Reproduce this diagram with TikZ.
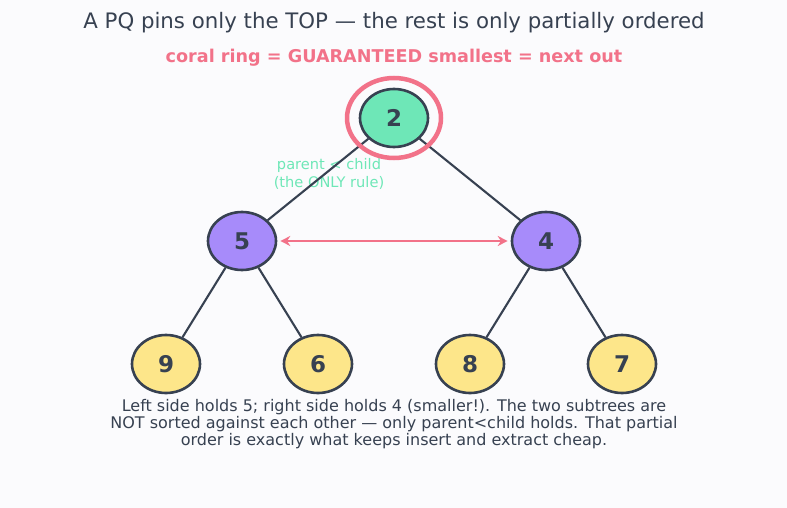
\documentclass[tikz,border=0pt]{standalone}
\usepackage{fontspec}
\setmainfont{DejaVu Sans}
\usetikzlibrary{arrows.meta,shapes.geometric}
\definecolor{bg}{HTML}{FBFBFD}
\definecolor{ink}{HTML}{374151}
\definecolor{coral}{HTML}{F27289}
\definecolor{mint}{HTML}{6EE7B7}
\definecolor{violet}{HTML}{A78BFA}
\definecolor{sand}{HTML}{FDE68A}
\pgfdeclarelayer{bgl}
\pgfdeclarelayer{edgel}
\pgfsetlayers{bgl,edgel,main}
\tikzset{
  heapnode/.style={ellipse, draw=ink, line width=2.6pt, minimum width=68pt, minimum height=58pt, inner sep=0pt, text=ink, font=\fontsize{23}{24}\selectfont\bfseries},
  edge/.style={draw=ink, line width=2.1pt},
}
\begin{document}
\begin{tikzpicture}[x=1pt,y=-1pt]
\begin{pgfonlayer}{bgl}
\fill[bg] (0,0) rectangle (787,508);
\node[text=mint, font=\fontsize{14.6}{17.5}\selectfont, align=center] (lbl) at (329,174) {parent < child\\(the ONLY rule)};
\end{pgfonlayer}
\useasboundingbox (0,0) rectangle (787,508);
\node[text=ink, font=\fontsize{21.3}{24}\selectfont] (title) at (394,23) {A PQ pins only the TOP — the rest is only partially ordered};
\node[text=coral, font=\fontsize{17.6}{20}\selectfont\bfseries] (sub) at (394,58) {coral ring = GUARANTEED smallest = next out};
\node[heapnode, fill=mint] (r) at (394,118) {2};
\node[heapnode, fill=violet] (a) at (242,241) {5};
\node[heapnode, fill=violet] (b) at (546,241) {4};
\node[heapnode, fill=sand] (a1) at (166,364) {9};
\node[heapnode, fill=sand] (a2) at (318,364) {6};
\node[heapnode, fill=sand] (b1) at (470,364) {8};
\node[heapnode, fill=sand] (b2) at (622,364) {7};
\begin{pgfonlayer}{edgel}
\draw[edge] (r) -- (a);
\draw[edge] (r) -- (b);
\draw[edge] (a) -- (a1);
\draw[edge] (a) -- (a2);
\draw[edge] (b) -- (b1);
\draw[edge] (b) -- (b2);
\end{pgfonlayer}
\node[ellipse, draw=coral, line width=4.5pt, minimum width=94pt, minimum height=80pt] (ring) at (394,118) {};
\draw[coral, line width=2.7pt, {Stealth[length=10pt,width=10pt]}-{Stealth[length=10pt,width=10pt]}] ([xshift=3pt]a.east) -- ([xshift=-3pt]b.west);
\node[text=ink, font=\fontsize{16}{17}\selectfont, align=center] (cap) at (394,424) {Left side holds 5; right side holds 4 (smaller!). The two subtrees are\\NOT sorted against each other — only parent<child holds. That partial\\order is exactly what keeps insert and extract cheap.};
\end{tikzpicture}
\end{document}
